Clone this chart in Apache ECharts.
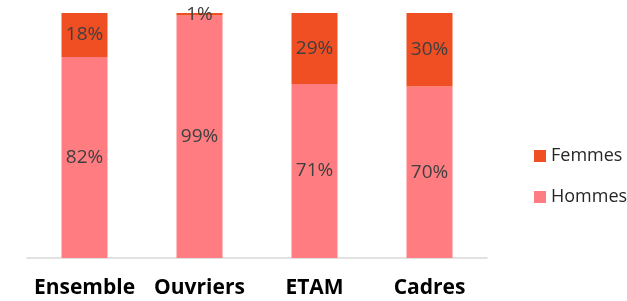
<!DOCTYPE html>
<html>
<head>
<meta charset="utf-8">
<script src="https://cdn.jsdelivr.net/npm/echarts@6/dist/echarts.min.js"></script>
<style>
  html, body { margin: 0; padding: 0; background: #fff; }
  #chart { width: 627px; height: 301px; }
</style>
</head>
<body>
<div id="chart"></div>
<script>
const categories = ["Ensemble", "Ouvriers", "ETAM", "Cadres"];
const hommes = [82, 99, 71, 70];
const femmes = [18, 1, 29, 30];

const FEMMES = "#F04E23";
const HOMMES = "#FF7C80";
const FONT = "'Open Sans', 'Noto Sans', sans-serif";

const label = {
  show: true,
  position: "inside",
  formatter: (p) => `${p.value}%`,
  color: "#404040",
  fontFamily: FONT,
  fontSize: 19,
};

const chart = echarts.init(document.getElementById("chart"), null, { renderer: "canvas" });
chart.setOption({
  animation: false,
  backgroundColor: "#fff",
  grid: { left: 27, right: 140, top: 13, bottom: 43 },
  legend: {
    orient: "vertical",
    left: 529,
    top: 142,
    itemWidth: 12,
    itemHeight: 12,
    itemGap: 23,
    icon: "rect",
    data: ["Femmes", "Hommes"],
    textStyle: { color: "#262626", fontFamily: FONT, fontSize: 18 },
  },
  xAxis: {
    type: "category",
    data: categories,
    axisTick: { show: false },
    axisLine: { lineStyle: { color: "#D9D9D9", width: 1.5 } },
    axisLabel: {
      interval: 0,
      color: "#000",
      fontFamily: FONT,
      fontWeight: "bold",
      fontSize: 21,
      margin: 20,
    },
  },
  yAxis: {
    type: "value",
    min: 0,
    max: 100,
    show: false,
  },
  series: [
    {
      name: "Hommes",
      type: "bar",
      stack: "total",
      data: hommes,
      barWidth: "40%",
      itemStyle: { color: HOMMES },
      label,
    },
    {
      name: "Femmes",
      type: "bar",
      stack: "total",
      data: femmes,
      barWidth: "40%",
      itemStyle: { color: FEMMES },
      label,
    },
  ],
});
</script>
</body>
</html>
